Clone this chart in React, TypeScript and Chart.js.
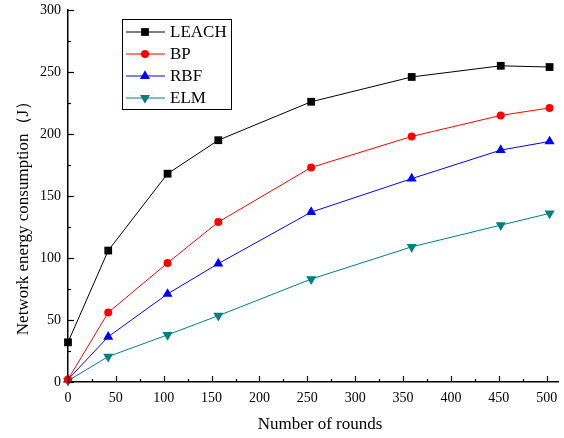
import React, { useEffect, useRef } from "react";
import { Chart, registerables } from "chart.js";

Chart.register(...registerables);

// ---- data ----
const rounds = [0, 42, 104, 157, 254, 359, 452, 503];
const leach = [32, 106, 168, 195, 226, 246, 255, 254];
const bp = [2, 56, 96, 129, 173, 198, 215, 221];
const rbf = [2, 36.5, 71, 95.5, 137, 164, 187, 194];
const elm = [1, 20.5, 38, 53.5, 83, 109, 126.5, 136];

const seriesNames = ["LEACH", "BP", "RBF", "ELM"];
const seriesColors = ["#000000", "#ff0000", "#0000ff", "#008080"];
const seriesMarkers = ["rect", "circle", "triangle", "triangle"];
const markerRotations = [0, 0, 0, 180];
const markerRadii = [5.5, 4, 5.8, 5.8];

const xTickValues = [0, 50, 100, 150, 200, 250, 300, 350, 400, 450, 500];
const yTickValues = [0, 50, 100, 150, 200, 250, 300];
const xMinorStep = 25;
const yMinorStep = 25;
const xMax = 512;
const yMax = 300;

const xTitle = "Number of rounds";
const yTitle = "Network energy consumption（J）";

const FONT = "'Liberation Serif', 'Times New Roman', serif";

function drawMarker(ctx: CanvasRenderingContext2D, style: string, x: number, y: number, r: number, rot: number, color: string) {
  ctx.save();
  ctx.fillStyle = color;
  ctx.strokeStyle = color;
  ctx.beginPath();
  if (style === "rect") {
    const s = Math.SQRT1_2 * r;
    ctx.rect(x - s, y - s, 2 * s, 2 * s);
  } else if (style === "circle") {
    ctx.arc(x, y, r, 0, Math.PI * 2);
  } else {
    let rad = (rot * Math.PI) / 180;
    ctx.moveTo(x + Math.sin(rad) * r, y - Math.cos(rad) * r);
    rad += (2 * Math.PI) / 3;
    ctx.lineTo(x + Math.sin(rad) * r, y - Math.cos(rad) * r);
    rad += (2 * Math.PI) / 3;
    ctx.lineTo(x + Math.sin(rad) * r, y - Math.cos(rad) * r);
    ctx.closePath();
  }
  ctx.fill();
  ctx.restore();
}

const decorPlugin = {
  id: "decor",
  afterDraw(chart: any) {
    const ctx: CanvasRenderingContext2D = chart.ctx;
    const xs = chart.scales.x;
    const ys = chart.scales.y;
    const area = chart.chartArea;
    ctx.save();
    // inward ticks
    ctx.strokeStyle = "#000";
    ctx.lineWidth = 1.2;
    for (let v = 0; v <= 500; v += xMinorStep) {
      const px = Math.round(xs.getPixelForValue(v)) + 0.5;
      const len = v % 50 === 0 ? 6 : 3;
      ctx.beginPath();
      ctx.moveTo(px, area.bottom);
      ctx.lineTo(px, area.bottom - len);
      ctx.stroke();
    }
    for (let v = 0; v <= yMax; v += yMinorStep) {
      const py = Math.round(ys.getPixelForValue(v)) + 0.5;
      const len = v % 50 === 0 ? 6 : 3;
      ctx.beginPath();
      ctx.moveTo(area.left, py);
      ctx.lineTo(area.left + len, py);
      ctx.stroke();
    }
    // axis titles
    ctx.fillStyle = "#000";
    ctx.font = `17px ${FONT}`;
    ctx.textAlign = "center";
    ctx.textBaseline = "middle";
    ctx.fillText(xTitle, 320, 425);
    ctx.save();
    ctx.translate(24, 214);
    ctx.rotate(-Math.PI / 2);
    ctx.fillText(yTitle, 0, 0);
    ctx.restore();

    // legend
    const bx = 122.5, by = 19.5, bw = 109, bh = 90;
    ctx.fillStyle = "#fff";
    ctx.fillRect(bx, by, bw, bh);
    ctx.strokeStyle = "#000";
    ctx.lineWidth = 1;
    ctx.strokeRect(bx, by, bw, bh);
    const rowY = [32, 54, 76, 98];
    chart.data.datasets.forEach((ds: any, i: number) => {
      const y = rowY[i];
      ctx.strokeStyle = ds.borderColor;
      ctx.lineWidth = 1;
      ctx.beginPath();
      ctx.moveTo(126, y);
      ctx.lineTo(165, y);
      ctx.stroke();
      drawMarker(ctx, ds.pointStyle, 145, y, ds.pointRadius, ds.pointRotation, ds.borderColor);
      ctx.fillStyle = "#000";
      ctx.font = `17px ${FONT}`;
      ctx.textAlign = "left";
      ctx.textBaseline = "middle";
      ctx.fillText(ds.label, 170, y + 1);
    });
    ctx.restore();
  },
};

export default function App() {
  const ref = useRef<HTMLCanvasElement | null>(null);
  useEffect(() => {
    if (!ref.current) return;
    const all = [leach, bp, rbf, elm];
    const chart = new Chart(ref.current, {
      type: "line",
      data: {
        datasets: all.map((vals, i) => ({
          label: seriesNames[i],
          data: rounds.map((r, j) => ({ x: r, y: vals[j] })),
          borderColor: seriesColors[i],
          backgroundColor: seriesColors[i],
          borderWidth: 1,
          pointStyle: seriesMarkers[i] as any,
          pointRotation: markerRotations[i],
          pointRadius: markerRadii[i],
          pointBorderWidth: 0,
          pointHoverRadius: markerRadii[i],
          tension: 0,
          clip: false as any,
        })),
      },
      options: {
        animation: false,
        responsive: false,
        events: [],
        layout: { padding: { top: 10, right: 1, left: 0, bottom: 0 } },
        plugins: { legend: { display: false }, tooltip: { enabled: false } },
        scales: {
          x: {
            type: "linear",
            min: 0,
            max: xMax,
            grid: { display: false, drawTicks: false },
            border: { display: true, color: "#000", width: 1.5 },
            ticks: {
              stepSize: 50,
              padding: 8,
              color: "#000",
              font: { family: FONT, size: 14 },
            },
            afterBuildTicks: (s: any) => {
              s.ticks = xTickValues.map((v) => ({ value: v }));
            },
            afterFit: (s: any) => {
              s.height = 56;
              s.paddingLeft = 0;
              s.paddingRight = 0;
            },
          },
          y: {
            type: "linear",
            min: 0,
            max: yMax,
            grid: { display: false, drawTicks: false },
            border: { display: true, color: "#000", width: 1.5 },
            ticks: {
              stepSize: 50,
              padding: 7,
              color: "#000",
              font: { family: FONT, size: 14 },
            },
            afterBuildTicks: (s: any) => {
              s.ticks = yTickValues.map((v) => ({ value: v }));
            },
            afterFit: (s: any) => {
              s.width = 68;
              s.paddingTop = 0;
              s.paddingBottom = 0;
            },
          },
        },
      },
      plugins: [decorPlugin],
    });
    return () => chart.destroy();
  }, []);
  return (
    <div style={{ position: "fixed", left: 0, top: 0, width: 564, height: 438, background: "#fff" }}>
      <canvas ref={ref} width={564} height={438} style={{ display: "block" }} />
    </div>
  );
}
